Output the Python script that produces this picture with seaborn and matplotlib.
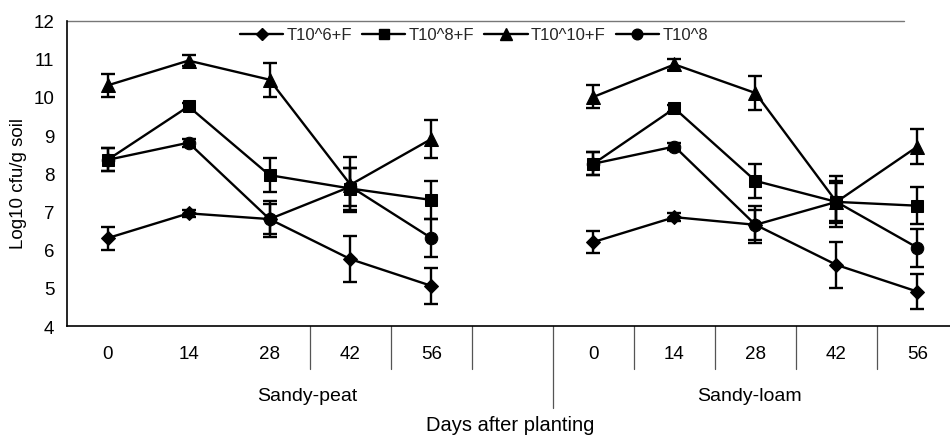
import numpy as np
import pandas as pd
import matplotlib
matplotlib.use("Agg")
import matplotlib.pyplot as plt
from matplotlib.lines import Line2D
from matplotlib.transforms import blended_transform_factory
import seaborn as sns

# ---- data -------------------------------------------------------------
days = [0, 14, 28, 42, 56]
soils = ["Sandy-peat", "Sandy-loam"]
series_names = ["T10^6+F", "T10^8+F", "T10^10+F", "T10^8"]

# mean log10 cfu/g soil, per soil (peat, loam)
t6f_peat = [6.3, 6.95, 6.8, 5.75, 5.05]
t6f_loam = [6.2, 6.85, 6.65, 5.6, 4.9]
t8f_peat = [8.35, 9.75, 7.95, 7.6, 7.3]
t8f_loam = [8.25, 9.7, 7.8, 7.25, 7.15]
t10f_peat = [10.3, 10.95, 10.45, 7.7, 8.9]
t10f_loam = [10.0, 10.85, 10.1, 7.25, 8.7]
t8_peat = [8.35, 8.8, 6.8, 7.65, 6.3]
t8_loam = [8.25, 8.7, 6.65, 7.25, 6.05]

# standard errors
t6f_peat_err = [0.3, 0.1, 0.4, 0.6, 0.48]
t6f_loam_err = [0.3, 0.1, 0.4, 0.6, 0.45]
t8f_peat_err = [0.3, 0.1, 0.45, 0.55, 0.5]
t8f_loam_err = [0.3, 0.1, 0.45, 0.55, 0.48]
t10f_peat_err = [0.3, 0.15, 0.45, 0.72, 0.5]
t10f_loam_err = [0.3, 0.15, 0.45, 0.67, 0.46]
t8_peat_err = [0.3, 0.1, 0.48, 0.5, 0.5]
t8_loam_err = [0.3, 0.1, 0.48, 0.5, 0.5]

values = {
    "T10^6+F": (t6f_peat, t6f_loam, t6f_peat_err, t6f_loam_err),
    "T10^8+F": (t8f_peat, t8f_loam, t8f_peat_err, t8f_loam_err),
    "T10^10+F": (t10f_peat, t10f_loam, t10f_peat_err, t10f_loam_err),
    "T10^8": (t8_peat, t8_loam, t8_peat_err, t8_loam_err),
}

# category slots: 5 days per soil, one empty slot between the soils
group_offset = {"Sandy-peat": 0, "Sandy-loam": 6}

rows = []
for name in series_names:
    peat, loam, peat_e, loam_e = values[name]
    for soil, vals, errs in (("Sandy-peat", peat, peat_e), ("Sandy-loam", loam, loam_e)):
        for i, (d, v, e) in enumerate(zip(days, vals, errs)):
            rows.append(dict(series=name, soil=soil, day=d,
                             pos=group_offset[soil] + i, value=v, err=e))
df = pd.DataFrame(rows)

# ---- style ------------------------------------------------------------
sns.set_theme(style="white")
plt.rcParams["font.family"] = ["Liberation Sans", "DejaVu Sans"]

markers = {"T10^6+F": ("D", 7), "T10^8+F": ("s", 8.5),
           "T10^10+F": ("^", 9.5), "T10^8": ("o", 9)}

W, H = 950, 439
fig = plt.figure(figsize=(W / 100, H / 100), dpi=100)
ax_left, ax_right, ax_top, ax_bot = 67, 958, 21.5, 327
ax = fig.add_axes([ax_left / W, 1 - ax_bot / H,
                   (ax_right - ax_left) / W, (ax_bot - ax_top) / H])

for name in series_names:
    m, ms = markers[name]
    for soil in soils:
        sub = df[(df.series == name) & (df.soil == soil)]
        sns.lineplot(data=sub, x="pos", y="value", ax=ax, color="black",
                     marker=m, markersize=ms, markeredgecolor="black",
                     linewidth=1.7, legend=False, zorder=3)
        ax.errorbar(sub["pos"], sub["value"], yerr=sub["err"], fmt="none",
                    ecolor="black", elinewidth=1.7, capsize=5, capthick=1.7,
                    zorder=2)

ax.set_xlim(-0.5, 10.5)
ax.set_ylim(4, 12)
ax.set_yticks(range(4, 13))
ax.tick_params(axis="y", length=0, pad=9, labelsize=13.5, colors="black")

tick_pos = [group_offset[s] + i for s in soils for i in range(len(days))]
tick_lab = [str(d) for s in soils for d in days]
ax.set_xticks(tick_pos)
ax.set_xticklabels(tick_lab)
ax.tick_params(axis="x", length=0, pad=14, labelsize=13.5, colors="black")
ax.set_xlabel("")
ax.set_ylabel("Log10 cfu/g soil", fontsize=13.5, color="black")
ax.yaxis.set_label_coords(-0.045, 0.47)

for side in ("top", "right"):
    ax.spines[side].set_visible(False)
for side in ("left", "bottom"):
    ax.spines[side].set_color("black")
    ax.spines[side].set_linewidth(1.2)

# faint upper frame line
ax.plot([-0.5, 9.83], [12, 12], color="#777777", lw=1.0,
        clip_on=False, zorder=1)

# category separators below the axis
trans = blended_transform_factory(ax.transData, ax.transAxes)
for b in [2.5, 3.5, 4.5, 6.5, 7.5, 8.5, 9.5]:
    ax.plot([b, b], [0, -0.14], color="#555555", lw=0.9,
            transform=trans, clip_on=False)
ax.plot([5.5, 5.5], [0, -0.27], color="#555555", lw=0.9,
        transform=trans, clip_on=False)

# soil group labels and axis title
ax.text(2.47, -0.228, "Sandy-peat", transform=trans, ha="center",
        va="center", fontsize=14, color="black")
ax.text(7.92, -0.228, "Sandy-loam", transform=trans, ha="center",
        va="center", fontsize=14, color="black")
fig.text(510 / W, 1 - 426 / H, "Days after planting", ha="center",
         va="center", fontsize=14.5, color="black")

handles = [Line2D([0], [0], color="black", lw=1.7, marker=markers[n][0],
                  markersize=markers[n][1] * 0.85, markeredgecolor="black")
           for n in series_names]
ax.legend(handles, series_names, loc="center",
          bbox_to_anchor=(474 / W, 1 - 36 / H),
          bbox_transform=fig.transFigure, ncol=4, frameon=False,
          fontsize=12, handlelength=2.6, handletextpad=0.2,
          columnspacing=0.6, borderaxespad=0)

fig.savefig("out.png", dpi=100, facecolor="white")
